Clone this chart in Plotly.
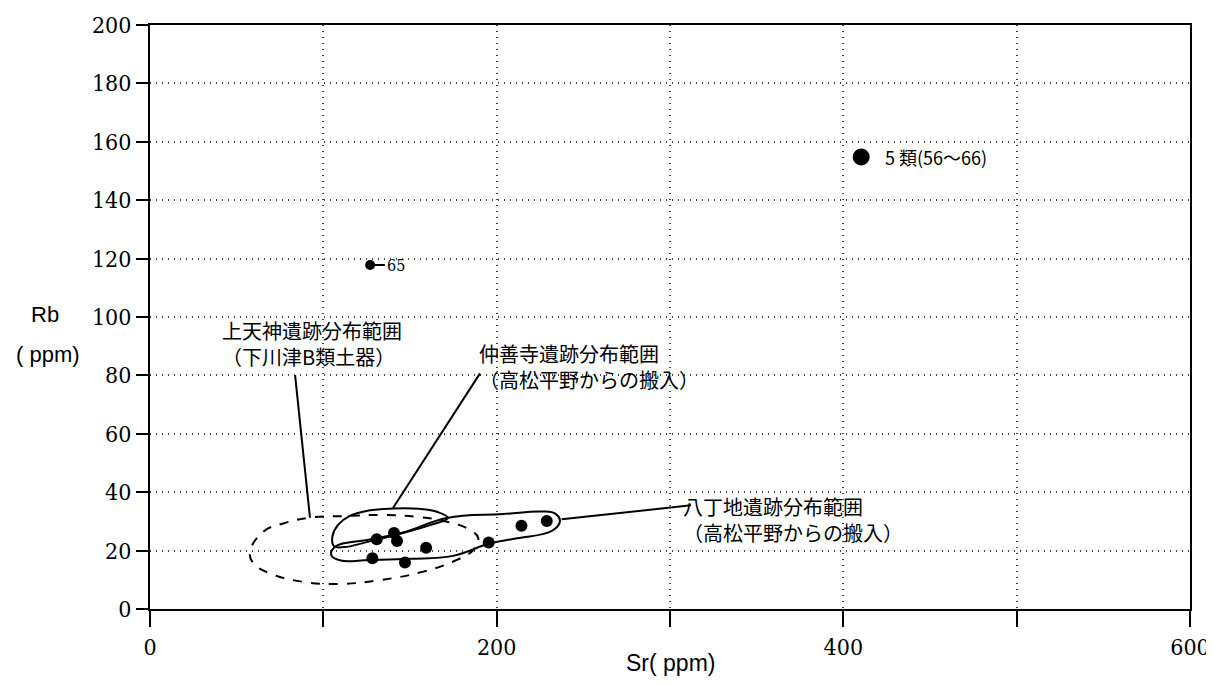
import plotly.graph_objects as go

# measured samples (Sr, Rb in ppm)
sr_pts = [130.8, 140.8, 142.5, 159.3, 128.3, 147.1, 195.4, 214.3, 228.9]
rb_pts = [23.9, 26.0, 23.3, 21.0, 17.4, 15.9, 22.8, 28.5, 30.1]

# sample 65 and group 5 marker
sr_65, rb_65 = [127.0], [117.8]
sr_g5, rb_g5 = [410.3], [154.8]

# distribution boundaries
kamitenjin_sr = [57.7, 65.4, 76.9, 92.3, 111.5, 132.7, 153.9, 171.2, 184.6, 189.4, 186.5,
                 177.0, 157.7, 132.7, 109.6, 88.4, 69.2, 59.6, 57.7]
kamitenjin_rb = [19.6, 26.5, 29.3, 31.3, 31.8, 32.2, 31.6, 29.9, 27.1, 24.2, 20.2,
                 16.8, 12.8, 9.9, 8.6, 9.3, 12.2, 15.7, 19.6]

chuzenji_sr = [171.9, 166.0, 155.0, 140.0, 126.0, 115.0, 108.5, 105.3, 106.0, 112.0, 125.0,
               146.0, 162.0, 171.9]
chuzenji_rb = [31.2, 33.2, 34.3, 34.4, 33.7, 31.8, 28.8, 25.0, 21.6, 21.2, 22.9,
               26.0, 28.8, 31.2]

hatchoji_sr = [104.6, 107.0, 126.9, 146.0, 171.3, 203.7, 226.0, 234.0, 236.5, 232.0, 211.7,
               196.2, 174.8, 150.0, 126.9, 110.0, 104.6]
hatchoji_rb = [18.4, 21.4, 23.8, 26.2, 31.2, 32.5, 33.4, 32.6, 30.0, 26.8, 24.2,
               22.5, 18.2, 17.2, 16.8, 16.6, 18.4]

# leader lines (boundary -> label)
lead_kamitenjin = ([92.3, 83.7], [31.2, 80.1])
lead_chuzenji = ([140.2, 190.4], [34.6, 80.7])
lead_hatchoji = ([237.5, 312.1], [30.7, 35.5])
lead_65 = ([127.0, 135.5], [117.8, 117.8])

x_ticks = [0, 100, 200, 300, 400, 500, 600]
x_ticktext = ["0", "", "200", "", "400", "", "600"]
y_ticks = [0, 20, 40, 60, 80, 100, 120, 140, 160, 180, 200]

JP = "Noto Sans CJK JP"
NUM = "DejaVu Serif Condensed, DejaVu Sans Condensed, Liberation Sans Narrow, sans-serif"
SANS = "Liberation Sans, Arial, sans-serif"

fig = go.Figure()

curve = dict(color="black", width=2, shape="spline", smoothing=1.2)
fig.add_trace(go.Scatter(x=kamitenjin_sr, y=kamitenjin_rb, mode="lines",
                         line=dict(curve, dash="dash")))
fig.add_trace(go.Scatter(x=chuzenji_sr, y=chuzenji_rb, mode="lines", line=curve))
fig.add_trace(go.Scatter(x=hatchoji_sr, y=hatchoji_rb, mode="lines", line=curve))

for lx, ly in (lead_kamitenjin, lead_chuzenji, lead_hatchoji, lead_65):
    fig.add_trace(go.Scatter(x=lx, y=ly, mode="lines", line=dict(color="black", width=2)))

fig.add_trace(go.Scatter(x=sr_pts, y=rb_pts, mode="markers",
                         marker=dict(color="black", size=12)))
fig.add_trace(go.Scatter(x=sr_65, y=rb_65, mode="markers",
                         marker=dict(color="black", size=10)))
fig.add_trace(go.Scatter(x=sr_g5, y=rb_g5, mode="markers",
                         marker=dict(color="black", size=17)))

labels = [
    (135.8, 117.8, "65", 16, NUM),
    (423.0, 154.8, "5 類(56～66)", 18, JP),
    (40.5, 91.0, "上天神遺跡分布範囲<br>（下川津B類土器）", 20, JP),
    (188.5, 83.2, "仲善寺遺跡分布範囲<br>（高松平野からの搬入）", 20, JP),
    (306.5, 30.8, "八丁地遺跡分布範囲<br>（高松平野からの搬入）", 20, JP),
]
for x, y, t, s, f in labels:
    fig.add_annotation(x=x, y=y, text=t, showarrow=False, xanchor="left", yanchor="middle",
                       align="left", font=dict(size=s, family=f, color="black"))

fig.add_annotation(text="Rb", xref="paper", yref="y", x=-0.101, y=100.7, showarrow=False,
                   xanchor="center", font=dict(size=22, family=SANS, color="black"))
fig.add_annotation(text="( ppm)", xref="paper", yref="y", x=-0.098, y=87.0, showarrow=False,
                   xanchor="center", font=dict(size=22, family=SANS, color="black"))
fig.add_annotation(text="Sr( ppm)", xref="paper", yref="paper", x=0.5, y=-0.0925,
                   showarrow=False, xanchor="center", yanchor="middle",
                   font=dict(size=23, family=SANS, color="black"))

grid = dict(showgrid=True, gridcolor="#444", griddash="1px,5px", gridwidth=1.5)

# page body has an 8px margin, so the figure is sized to sit inside the window
fig.update_layout(
    width=1198, height=668,
    margin=dict(l=142, r=16, t=17, b=67),
    paper_bgcolor="white", plot_bgcolor="white",
    showlegend=False,
    xaxis=dict(
        range=[0, 600], tickvals=x_ticks, ticktext=x_ticktext, automargin=False,
        ticklabeloverflow="allow",
        ticks="outside", ticklen=16, tickwidth=1.5, tickcolor="black",
        showline=True, linecolor="black", linewidth=2, mirror=True,
        zeroline=False, **grid,
        tickfont=dict(size=23, family=NUM, color="black"),
    ),
    yaxis=dict(
        range=[0, 200], tickvals=y_ticks, automargin=False,
        ticklabeloverflow="allow",
        ticks="outside", ticklen=12, tickwidth=1.5, tickcolor="black",
        showline=True, linecolor="black", linewidth=2, mirror=True,
        zeroline=False, **grid,
        tickfont=dict(size=23, family=NUM, color="black"),
    ),
)

fig.write_html("out.html")
